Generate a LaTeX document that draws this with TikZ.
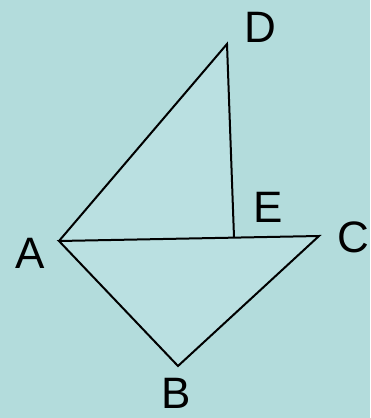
\documentclass[tikz,border=0pt]{standalone}
\usepackage{fontspec}
\setmainfont{Liberation Sans}
\definecolor{bg}{HTML}{B3DCDC}
\definecolor{fillc}{HTML}{BAE0E1}
\begin{document}
\begin{tikzpicture}[x=1pt,y=-1pt,
  lbl/.style={font=\fontsize{44}{44}\selectfont, inner sep=0pt, anchor=center},
  edge/.style={draw=black, line width=2pt, line join=miter}]
\fill[bg] (0,0) rectangle (370,418);
\useasboundingbox (0,0) rectangle (370,418);
\coordinate (A) at (59,241);
\coordinate (D) at (227,44);
\coordinate (E) at (234,237);
\coordinate (C) at (319,236);
\coordinate (B) at (178,366);
\fill[fillc] (A) -- (D) -- (E) -- (C) -- (B) -- cycle;
\draw[edge] (A) -- (D) -- (E);
\draw[edge] (A) -- (C) -- (B) -- cycle;
\node[lbl] (lD) at (260,27) {D};
\node[lbl] (lE) at (268,207) {E};
\node[lbl] (lC) at (353,237) {C};
\node[lbl] (lA) at (30,253) {A};
\node[lbl] (lB) at (176,393) {B};
\end{tikzpicture}
\end{document}
